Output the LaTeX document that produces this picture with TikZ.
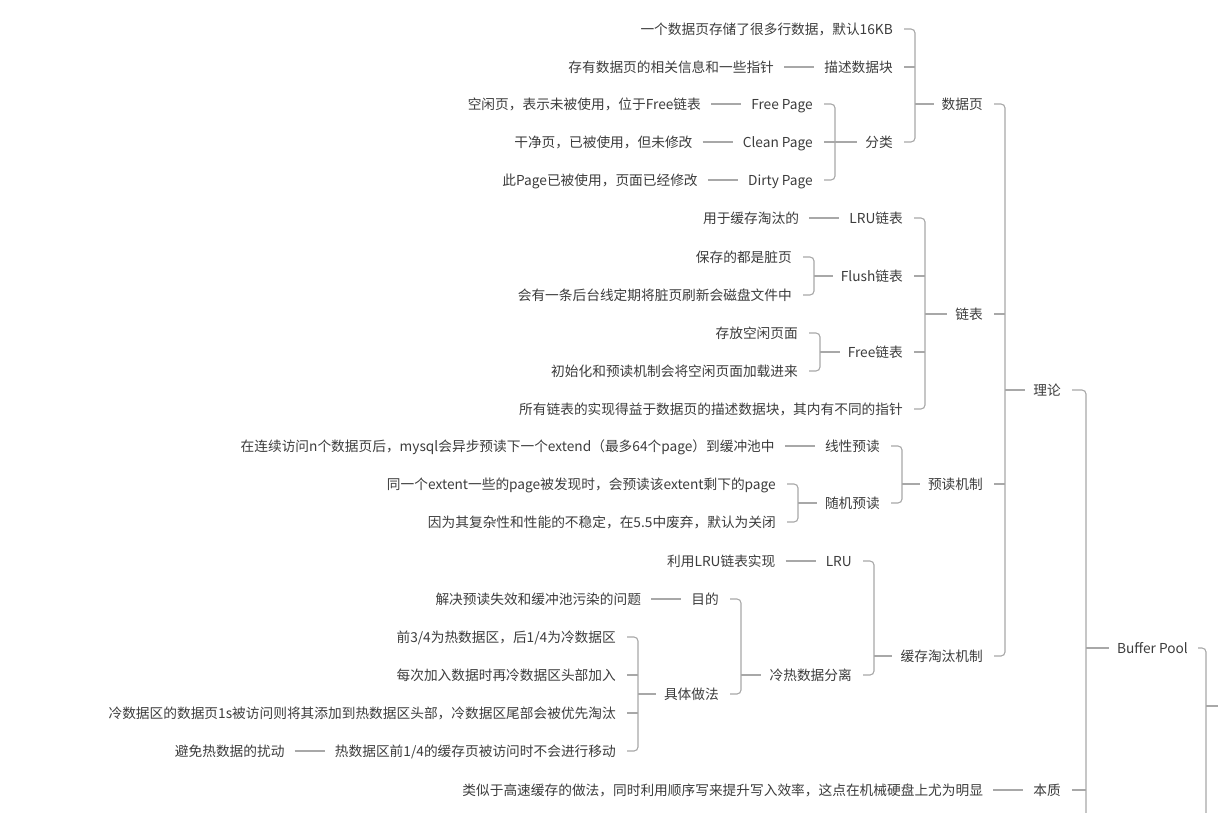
\documentclass[tikz,border=0pt]{standalone}
\usepackage{fontspec}
\setmainfont{Noto Sans CJK SC}
\usetikzlibrary{positioning}
\definecolor{txtgray}{HTML}{3C3C3C}
\definecolor{linegray}{HTML}{A8A8A8}
\tikzset{
  topic/.style={anchor=east, inner sep=0pt, text height=10.4pt, text depth=0pt,
    text=txtgray, font=\fontsize{13.7pt}{16pt}\selectfont},
  link/.style={draw=linegray, line width=1.1pt, rounded corners=4pt},
}
\begin{document}
\begin{tikzpicture}[x=1pt,y=-1pt]
\clip (0,0) rectangle (1218,813);

\node[topic] (bp) at (1188,648) {Buffer Pool};
\node[topic] (theory) at (1061,390) {理论};
\node[topic] (essence) at (1061,790) {本质};
\node[topic,left=50pt of essence] (essenceinfo) {类似于高速缓存的做法，同时利用顺序写来提升写入效率，这点在机械硬盘上尤为明显};

% 理论
\node[topic] (page) at (983,104) {数据页};
\node[topic] (list) at (983,314) {链表};
\node[topic] (prefetch) at (983,484) {预读机制};
\node[topic] (evict) at (983,656) {缓存淘汰机制};

% 数据页
\node[topic] (pg1) at (893,29) {一个数据页存储了很多行数据，默认16KB};
\node[topic] (desc) at (893,67) {描述数据块};
\node[topic,left=50pt of desc] (descinfo) {存有数据页的相关信息和一些指针};
\node[topic] (kind) at (893,142) {分类};
\node[topic] (free) at (813,104) {Free Page};
\node[topic] (clean) at (813,142) {Clean Page};
\node[topic] (dirty) at (813,180) {Dirty Page};
\node[topic,left=50pt of free] (freeinfo) {空闲页，表示未被使用，位于Free链表};
\node[topic,left=50pt of clean] (cleaninfo) {干净页，已被使用，但未修改};
\node[topic,left=50pt of dirty] (dirtyinfo) {此Page已被使用，页面已经修改};

% 链表
\node[topic] (lru) at (903,218) {LRU链表};
\node[topic,left=50pt of lru] (lruinfo) {用于缓存淘汰的};
\node[topic] (flush) at (903,276) {Flush链表};
\node[topic] (flush1) at (792,257) {保存的都是脏页};
\node[topic] (flush2) at (792,295) {会有一条后台线定期将脏页刷新会磁盘文件中};
\node[topic] (freelist) at (903,352) {Free链表};
\node[topic] (fl1) at (798,333) {存放空闲页面};
\node[topic] (fl2) at (798,371) {初始化和预读机制会将空闲页面加载进来};
\node[topic] (alllist) at (903,409) {所有链表的实现得益于数据页的描述数据块，其内有不同的指针};

% 预读机制
\node[topic] (linear) at (880,446) {线性预读};
\node[topic,left=50pt of linear] (linearinfo) {在连续访问n个数据页后，mysql会异步预读下一个extend（最多64个page）到缓冲池中};
\node[topic] (random) at (880,503) {随机预读};
\node[topic] (rnd1) at (776,484) {同一个extent一些的page被发现时，会预读该extent剩下的page};
\node[topic] (rnd2) at (776,522) {因为其复杂性和性能的不稳定，在5.5中废弃，默认为关闭};

% 缓存淘汰机制
\node[topic] (evlru) at (852,561) {LRU};
\node[topic,left=50pt of evlru] (evlruinfo) {利用LRU链表实现};
\node[topic] (split) at (852,675) {冷热数据分离};
\node[topic] (goal) at (719,599) {目的};
\node[topic,left=50pt of goal] (goalinfo) {解决预读失效和缓冲池污染的问题};
\node[topic] (method) at (719,694) {具体做法};
\node[topic] (m1) at (616,637) {前3/4为热数据区，后1/4为冷数据区};
\node[topic] (m2) at (616,675) {每次加入数据时再冷数据区头部加入};
\node[topic] (m3) at (616,713) {冷数据区的数据页1s被访问则将其添加到热数据区头部，冷数据区尾部会被优先淘汰};
\node[topic] (m4) at (616,751) {热数据区前1/4的缓存页被访问时不会进行移动};
\node[topic,left=50pt of m4] (m4info) {避免热数据的扰动};

% leaf lines
\foreach \a/\b in {essenceinfo/essence, descinfo/desc, freeinfo/free, cleaninfo/clean,
    dirtyinfo/dirty, lruinfo/lru, linearinfo/linear, evlruinfo/evlru, goalinfo/goal, m4info/m4}
  \draw[link] ([xshift=10pt]\a.east) -- ([xshift=-10pt]\b.west);

% Buffer Pool
\coordinate (bpend) at (0,850);
\coordinate (vbp) at (1086,0);
\draw[link] ([xshift=11pt]theory.east) -| (vbp |- bpend);
\draw[link] ([xshift=11pt]essence.east) -- (vbp |- essence.east);
\draw[link] (vbp |- bp.west) -- ([xshift=-8pt]bp.west);
\coordinate (rootv) at (1206,706);
\coordinate (rootend) at (1230,706);
\draw[link] ([xshift=10pt]bp.east) -| (rootv |- bpend);
\draw[link] (rootv) -- (rootend);

% 理论
\coordinate (vtheory) at ([xshift=22pt]page.east);
\draw[link] ([xshift=11pt]page.east) -| (vtheory |- evict.east) -- ([xshift=11pt]evict.east);
\foreach \c in {list,prefetch}
  \draw[link] ([xshift=11pt]\c.east) -- (vtheory |- \c.east);
\draw[link] (vtheory |- theory.west) -- ([xshift=-8pt]theory.west);

% 数据页
\coordinate (vpage) at ([xshift=22pt]pg1.east);
\draw[link] ([xshift=11pt]pg1.east) -| (vpage |- kind.east) -- ([xshift=11pt]kind.east);
\draw[link] ([xshift=11pt]desc.east) -- (vpage |- desc.east);
\draw[link] (vpage |- page.west) -- ([xshift=-8pt]page.west);

% 分类
\coordinate (vkind) at ([xshift=22pt]free.east);
\draw[link] ([xshift=11pt]free.east) -| (vkind |- dirty.east) -- ([xshift=11pt]dirty.east);
\draw[link] ([xshift=11pt]clean.east) -- (vkind |- clean.east);
\draw[link] (vkind |- kind.west) -- ([xshift=-8pt]kind.west);

% 链表
\coordinate (vlist) at ([xshift=22pt]lru.east);
\draw[link] ([xshift=11pt]lru.east) -| (vlist |- alllist.east) -- ([xshift=11pt]alllist.east);
\foreach \c in {flush,freelist}
  \draw[link] ([xshift=11pt]\c.east) -- (vlist |- \c.east);
\draw[link] (vlist |- list.west) -- ([xshift=-8pt]list.west);

\coordinate (vflush) at ([xshift=22pt]flush1.east);
\draw[link] ([xshift=11pt]flush1.east) -| (vflush |- flush2.east) -- ([xshift=11pt]flush2.east);
\draw[link] (vflush |- flush.west) -- ([xshift=-8pt]flush.west);

\coordinate (vfree) at ([xshift=22pt]fl1.east);
\draw[link] ([xshift=11pt]fl1.east) -| (vfree |- fl2.east) -- ([xshift=11pt]fl2.east);
\draw[link] (vfree |- freelist.west) -- ([xshift=-8pt]freelist.west);

% 预读机制
\coordinate (vpre) at ([xshift=22pt]linear.east);
\draw[link] ([xshift=11pt]linear.east) -| (vpre |- random.east) -- ([xshift=11pt]random.east);
\draw[link] (vpre |- prefetch.west) -- ([xshift=-8pt]prefetch.west);

\coordinate (vrnd) at ([xshift=22pt]rnd1.east);
\draw[link] ([xshift=11pt]rnd1.east) -| (vrnd |- rnd2.east) -- ([xshift=11pt]rnd2.east);
\draw[link] (vrnd |- random.west) -- ([xshift=-8pt]random.west);

% 缓存淘汰机制
\coordinate (vevict) at ([xshift=22pt]evlru.east);
\draw[link] ([xshift=11pt]evlru.east) -| (vevict |- split.east) -- ([xshift=11pt]split.east);
\draw[link] (vevict |- evict.west) -- ([xshift=-8pt]evict.west);

\coordinate (vsplit) at ([xshift=22pt]goal.east);
\draw[link] ([xshift=11pt]goal.east) -| (vsplit |- method.east) -- ([xshift=11pt]method.east);
\draw[link] (vsplit |- split.west) -- ([xshift=-8pt]split.west);

\coordinate (vmethod) at ([xshift=22pt]m1.east);
\draw[link] ([xshift=11pt]m1.east) -| (vmethod |- m4.east) -- ([xshift=11pt]m4.east);
\foreach \c in {m2,m3}
  \draw[link] ([xshift=11pt]\c.east) -- (vmethod |- \c.east);
\draw[link] (vmethod |- method.west) -- ([xshift=-8pt]method.west);
\end{tikzpicture}
\end{document}
